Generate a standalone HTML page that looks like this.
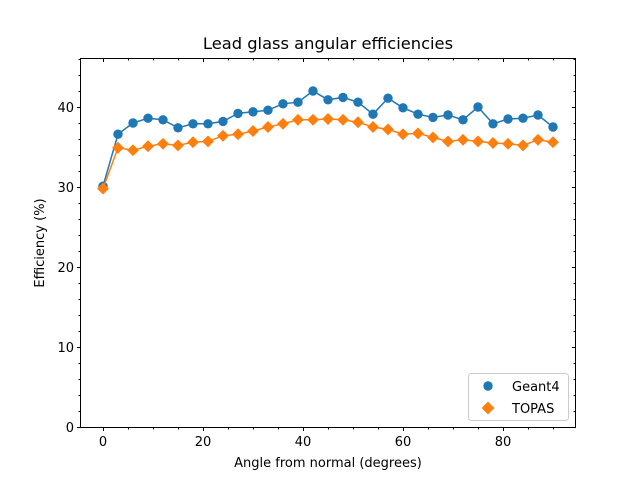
<!DOCTYPE html>
<html><head><meta charset="utf-8"><style>
body{margin:0;background:#fff}
text{font-family:"DejaVu Sans","Liberation Sans",sans-serif;fill:#000}
</style></head><body>
<svg id="chart" width="640" height="480" xmlns="http://www.w3.org/2000/svg">
<rect width="640" height="480" fill="#fff"/>
<g id="ticks"></g>
<g id="marks"></g>
<rect x="80.5" y="58.5" width="495" height="369" fill="none" stroke="#000" stroke-width="1"/>
<text x="328" y="49" font-size="16.3" text-anchor="middle">Lead glass angular efficiencies</text>
<text x="328" y="467" font-size="13" text-anchor="middle">Angle from normal (degrees)</text>
<text transform="translate(44,243) rotate(-90)" font-size="13" text-anchor="middle">Efficiency (%)</text>
<g>
<rect x="468.5" y="373.5" width="100" height="47" rx="3" fill="#fff" stroke="#ccc"/>
<circle cx="488" cy="386" r="4.7" fill="#1f77b4"/>
<text x="512" y="391" font-size="13">Geant4</text>
<rect x="483.5" y="403.5" width="9" height="9" transform="rotate(45 488 408)" fill="#ff7f0e"/>
<text x="512" y="413" font-size="13">TOPAS</text>
</g>
</svg>
<script>
const angles=[0,3,6,9,12,15,18,21,24,27,30,33,36,39,42,45,48,51,54,57,60,63,66,69,72,75,78,81,84,87,90];
const geant4=[30.1,36.6,38.0,38.6,38.4,37.4,37.9,37.9,38.2,39.2,39.4,39.6,40.4,40.6,42.0,40.9,41.2,40.6,39.1,41.1,39.9,39.1,38.7,39.0,38.4,40.0,37.9,38.5,38.6,39.0,37.5];
const topas=[29.8,34.9,34.6,35.1,35.4,35.2,35.6,35.7,36.4,36.6,37.0,37.5,37.9,38.4,38.4,38.5,38.4,38.1,37.5,37.2,36.6,36.7,36.2,35.7,35.9,35.7,35.5,35.4,35.2,35.9,35.6];
const xTicks=[0,20,40,60,80];
const yTicks=[0,10,20,30,40];
const NS="http://www.w3.org/2000/svg";
const X=v=>103+v*5, Y=v=>427-v*8;
function mk(tag,attrs,parent){const e=document.createElementNS(NS,tag);for(const k in attrs)e.setAttribute(k,attrs[k]);parent.appendChild(e);return e;}
const tg=document.getElementById('ticks'), mg=document.getElementById('marks');
for(let v=-0;v<=90;v+=5){const x=X(v)+0.5,maj=v%20===0,l=maj?3.5:2;
 const t=mk('line',{x1:x,x2:x,y1:427.5,y2:427.5+l,stroke:'#000'},tg);
 
 
 mk('line',{x1:x,x2:x,y1:58.5,y2:58.5+l,stroke:'#000'},tg);}
for(let v=0;v<=46;v+=2){const y=Y(v)+0.5,maj=v%10===0,l=maj?3.5:2;
 const t=mk('line',{x1:80.5-l,x2:80.5,y1:y,y2:y,stroke:'#000'},tg);
 
 
 mk('line',{x1:575.5-l,x2:575.5,y1:y,y2:y,stroke:'#000'},tg);}
xTicks.forEach(v=>{const t=mk('text',{x:X(v),y:446,'font-size':13,'text-anchor':'middle'},tg);t.textContent=v;
 
 });
yTicks.forEach(v=>{const t=mk('text',{x:74,y:Y(v)+5,'font-size':13,'text-anchor':'end'},tg);t.textContent=v;
 
 });
function series(vals,color,name,marker){
 const pl=mk('polyline',{points:angles.map((a,i)=>X(a)+','+Y(vals[i])).join(' '),fill:'none',stroke:color,'stroke-width':1.5},mg);
 
 
 angles.forEach((a,i)=>{let e;const x=X(a),y=Y(vals[i]);
  if(marker==='c')e=mk('circle',{cx:x,cy:y,r:4.7,fill:color},mg);
  else e=mk('rect',{x:x-4.2,y:y-4.2,width:8.4,height:8.4,fill:color,transform:`rotate(45 ${x} ${y})`},mg);
  
  });
}
series(geant4,'#1f77b4','geant4','c');
series(topas,'#ff7f0e','topas','d');
</script>
</body></html>
